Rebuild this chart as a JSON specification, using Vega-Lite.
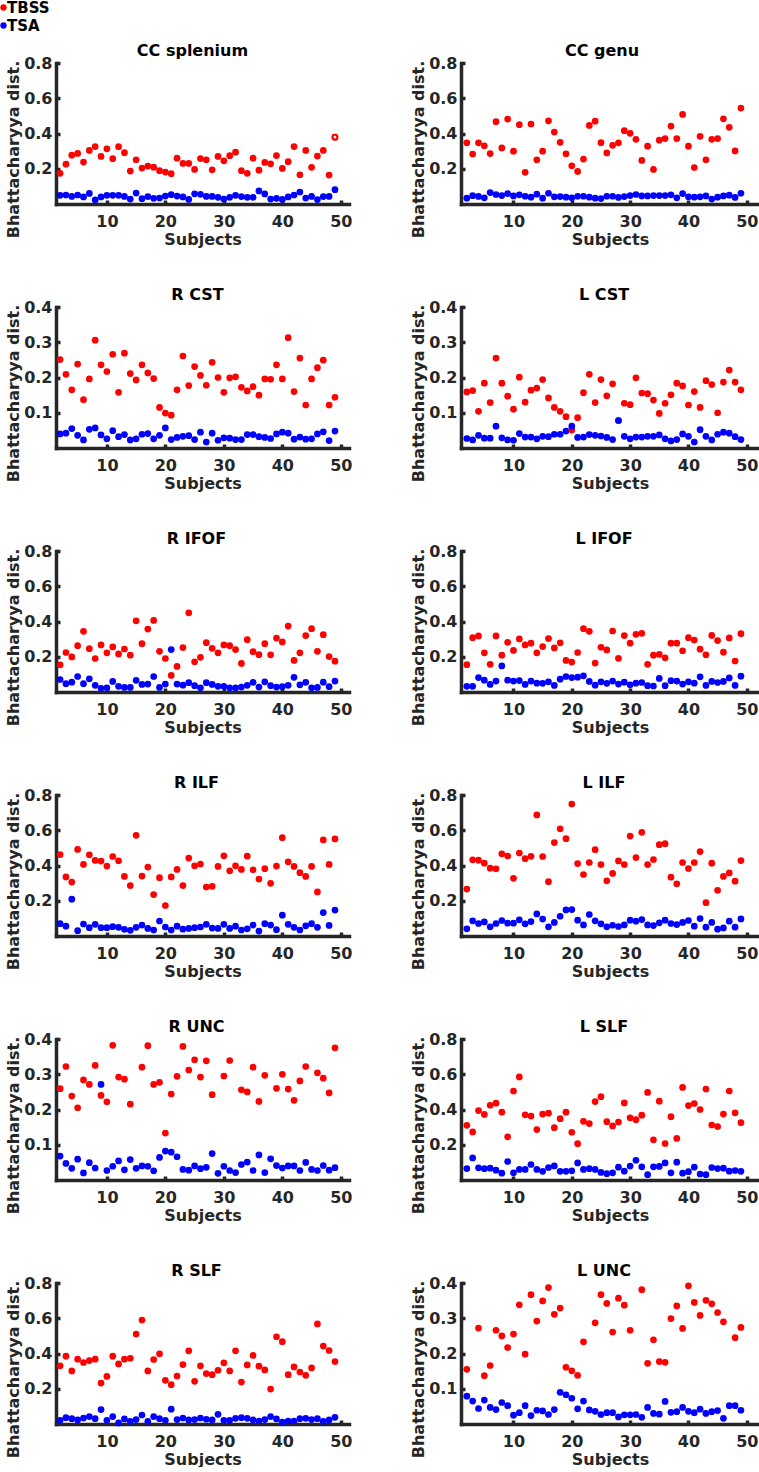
{
"$schema":"https://vega.github.io/schema/vega-lite/v6.json",
"padding":{"left":-4,"top":0,"right":0,"bottom":0},
"background":"white",
"bounds":"flush",
"columns":2,
"spacing":{"row":103,"column":112},
"datasets":{
"ccs":[{"s":2,"TBSS":0.174,"TSA":0.049},{"s":3,"TBSS":0.226,"TSA":0.051},{"s":4,"TBSS":0.277,"TSA":0.043},{"s":5,"TBSS":0.287,"TSA":0.051},{"s":6,"TBSS":0.238,"TSA":0.040},{"s":7,"TBSS":0.304,"TSA":0.060},{"s":8,"TBSS":0.326,"TSA":0.023},{"s":9,"TBSS":0.270,"TSA":0.040},{"s":10,"TBSS":0.313,"TSA":0.049},{"s":11,"TBSS":0.257,"TSA":0.049},{"s":12,"TBSS":0.325,"TSA":0.049},{"s":13,"TBSS":0.291,"TSA":0.043},{"s":14,"TBSS":0.187,"TSA":0.028},{"s":15,"TBSS":0.251,"TSA":0.062},{"s":16,"TBSS":0.204,"TSA":0.030},{"s":17,"TBSS":0.215,"TSA":0.042},{"s":18,"TBSS":0.209,"TSA":0.032},{"s":19,"TBSS":0.189,"TSA":0.034},{"s":20,"TBSS":0.181,"TSA":0.045},{"s":21,"TBSS":0.172,"TSA":0.053},{"s":22,"TBSS":0.260,"TSA":0.045},{"s":23,"TBSS":0.230,"TSA":0.040},{"s":24,"TBSS":0.230,"TSA":0.026},{"s":25,"TBSS":0.196,"TSA":0.058},{"s":26,"TBSS":0.258,"TSA":0.055},{"s":27,"TBSS":0.251,"TSA":0.043},{"s":28,"TBSS":0.194,"TSA":0.043},{"s":29,"TBSS":0.270,"TSA":0.038},{"s":30,"TBSS":0.245,"TSA":0.028},{"s":31,"TBSS":0.274,"TSA":0.038},{"s":32,"TBSS":0.294,"TSA":0.049},{"s":33,"TBSS":0.189,"TSA":0.042},{"s":34,"TBSS":0.174,"TSA":0.038},{"s":35,"TBSS":0.260,"TSA":0.038},{"s":36,"TBSS":0.192,"TSA":0.074},{"s":37,"TBSS":0.236,"TSA":0.057},{"s":38,"TBSS":0.228,"TSA":0.028},{"s":39,"TBSS":0.275,"TSA":0.032},{"s":40,"TBSS":0.202,"TSA":0.026},{"s":41,"TBSS":0.240,"TSA":0.040},{"s":42,"TBSS":0.326,"TSA":0.051},{"s":43,"TBSS":0.166,"TSA":0.068},{"s":44,"TBSS":0.304,"TSA":0.034},{"s":45,"TBSS":0.208,"TSA":0.043},{"s":46,"TBSS":0.272,"TSA":0.025},{"s":47,"TBSS":0.304,"TSA":0.042},{"s":48,"TBSS":0.164,"TSA":0.043},{"s":49,"TBSS":0.379,"TSA":0.081}],
"ccg":[{"s":2,"TBSS":0.347,"TSA":0.033},{"s":3,"TBSS":0.283,"TSA":0.047},{"s":4,"TBSS":0.347,"TSA":0.043},{"s":5,"TBSS":0.330,"TSA":0.035},{"s":6,"TBSS":0.286,"TSA":0.065},{"s":7,"TBSS":0.467,"TSA":0.054},{"s":8,"TBSS":0.318,"TSA":0.048},{"s":9,"TBSS":0.482,"TSA":0.059},{"s":10,"TBSS":0.300,"TSA":0.046},{"s":11,"TBSS":0.450,"TSA":0.052},{"s":12,"TBSS":0.180,"TSA":0.044},{"s":13,"TBSS":0.454,"TSA":0.039},{"s":14,"TBSS":0.251,"TSA":0.056},{"s":15,"TBSS":0.300,"TSA":0.033},{"s":16,"TBSS":0.472,"TSA":0.061},{"s":17,"TBSS":0.408,"TSA":0.041},{"s":18,"TBSS":0.350,"TSA":0.042},{"s":19,"TBSS":0.285,"TSA":0.039},{"s":20,"TBSS":0.217,"TSA":0.035},{"s":21,"TBSS":0.185,"TSA":0.044},{"s":22,"TBSS":0.255,"TSA":0.044},{"s":23,"TBSS":0.446,"TSA":0.039},{"s":24,"TBSS":0.470,"TSA":0.033},{"s":25,"TBSS":0.348,"TSA":0.031},{"s":26,"TBSS":0.290,"TSA":0.044},{"s":27,"TBSS":0.333,"TSA":0.044},{"s":28,"TBSS":0.347,"TSA":0.037},{"s":29,"TBSS":0.416,"TSA":0.042},{"s":30,"TBSS":0.401,"TSA":0.048},{"s":31,"TBSS":0.367,"TSA":0.054},{"s":32,"TBSS":0.247,"TSA":0.046},{"s":33,"TBSS":0.328,"TSA":0.046},{"s":34,"TBSS":0.196,"TSA":0.048},{"s":35,"TBSS":0.362,"TSA":0.048},{"s":36,"TBSS":0.371,"TSA":0.048},{"s":37,"TBSS":0.442,"TSA":0.052},{"s":38,"TBSS":0.371,"TSA":0.035},{"s":39,"TBSS":0.508,"TSA":0.059},{"s":40,"TBSS":0.328,"TSA":0.041},{"s":41,"TBSS":0.207,"TSA":0.039},{"s":42,"TBSS":0.384,"TSA":0.041},{"s":43,"TBSS":0.251,"TSA":0.046},{"s":44,"TBSS":0.367,"TSA":0.028},{"s":45,"TBSS":0.371,"TSA":0.039},{"s":46,"TBSS":0.483,"TSA":0.046},{"s":47,"TBSS":0.435,"TSA":0.050},{"s":48,"TBSS":0.301,"TSA":0.037},{"s":49,"TBSS":0.544,"TSA":0.061}],
"rcst":[{"s":2,"TBSS":0.251,"TSA":0.040},{"s":3,"TBSS":0.209,"TSA":0.042},{"s":4,"TBSS":0.165,"TSA":0.055},{"s":5,"TBSS":0.238,"TSA":0.036},{"s":6,"TBSS":0.137,"TSA":0.023},{"s":7,"TBSS":0.196,"TSA":0.053},{"s":8,"TBSS":0.306,"TSA":0.057},{"s":9,"TBSS":0.236,"TSA":0.037},{"s":10,"TBSS":0.217,"TSA":0.026},{"s":11,"TBSS":0.266,"TSA":0.049},{"s":12,"TBSS":0.158,"TSA":0.032},{"s":13,"TBSS":0.269,"TSA":0.038},{"s":14,"TBSS":0.211,"TSA":0.023},{"s":15,"TBSS":0.193,"TSA":0.026},{"s":16,"TBSS":0.236,"TSA":0.039},{"s":17,"TBSS":0.213,"TSA":0.041},{"s":18,"TBSS":0.197,"TSA":0.026},{"s":19,"TBSS":0.115,"TSA":0.036},{"s":20,"TBSS":0.099,"TSA":0.057},{"s":21,"TBSS":0.093,"TSA":0.024},{"s":22,"TBSS":0.165,"TSA":0.030},{"s":23,"TBSS":0.261,"TSA":0.033},{"s":24,"TBSS":0.177,"TSA":0.035},{"s":25,"TBSS":0.231,"TSA":0.024},{"s":26,"TBSS":0.206,"TSA":0.045},{"s":27,"TBSS":0.178,"TSA":0.017},{"s":28,"TBSS":0.243,"TSA":0.042},{"s":29,"TBSS":0.200,"TSA":0.022},{"s":30,"TBSS":0.158,"TSA":0.029},{"s":31,"TBSS":0.199,"TSA":0.028},{"s":32,"TBSS":0.202,"TSA":0.024},{"s":33,"TBSS":0.172,"TSA":0.024},{"s":34,"TBSS":0.162,"TSA":0.038},{"s":35,"TBSS":0.174,"TSA":0.038},{"s":36,"TBSS":0.150,"TSA":0.032},{"s":37,"TBSS":0.196,"TSA":0.030},{"s":38,"TBSS":0.195,"TSA":0.027},{"s":39,"TBSS":0.236,"TSA":0.040},{"s":40,"TBSS":0.196,"TSA":0.045},{"s":41,"TBSS":0.313,"TSA":0.042},{"s":42,"TBSS":0.160,"TSA":0.025},{"s":43,"TBSS":0.255,"TSA":0.031},{"s":44,"TBSS":0.122,"TSA":0.025},{"s":45,"TBSS":0.196,"TSA":0.026},{"s":46,"TBSS":0.228,"TSA":0.040},{"s":47,"TBSS":0.249,"TSA":0.046},{"s":48,"TBSS":0.122,"TSA":0.021},{"s":49,"TBSS":0.144,"TSA":0.048}],
"lcst":[{"s":2,"TBSS":0.159,"TSA":0.027},{"s":3,"TBSS":0.163,"TSA":0.023},{"s":4,"TBSS":0.104,"TSA":0.036},{"s":5,"TBSS":0.184,"TSA":0.028},{"s":6,"TBSS":0.129,"TSA":0.028},{"s":7,"TBSS":0.255,"TSA":0.062},{"s":8,"TBSS":0.184,"TSA":0.029},{"s":9,"TBSS":0.147,"TSA":0.023},{"s":10,"TBSS":0.110,"TSA":0.022},{"s":11,"TBSS":0.201,"TSA":0.041},{"s":12,"TBSS":0.130,"TSA":0.031},{"s":13,"TBSS":0.164,"TSA":0.031},{"s":14,"TBSS":0.170,"TSA":0.026},{"s":15,"TBSS":0.194,"TSA":0.033},{"s":16,"TBSS":0.142,"TSA":0.032},{"s":17,"TBSS":0.115,"TSA":0.039},{"s":18,"TBSS":0.104,"TSA":0.039},{"s":19,"TBSS":0.089,"TSA":0.048},{"s":20,"TBSS":0.051,"TSA":0.062},{"s":21,"TBSS":0.086,"TSA":0.030},{"s":22,"TBSS":0.157,"TSA":0.031},{"s":23,"TBSS":0.209,"TSA":0.038},{"s":24,"TBSS":0.129,"TSA":0.036},{"s":25,"TBSS":0.194,"TSA":0.034},{"s":26,"TBSS":0.148,"TSA":0.030},{"s":27,"TBSS":0.182,"TSA":0.024},{"s":28,"TBSS":0.078,"TSA":0.078},{"s":29,"TBSS":0.127,"TSA":0.033},{"s":30,"TBSS":0.123,"TSA":0.026},{"s":31,"TBSS":0.199,"TSA":0.031},{"s":32,"TBSS":0.156,"TSA":0.031},{"s":33,"TBSS":0.154,"TSA":0.033},{"s":34,"TBSS":0.136,"TSA":0.033},{"s":35,"TBSS":0.098,"TSA":0.037},{"s":36,"TBSS":0.127,"TSA":0.026},{"s":37,"TBSS":0.151,"TSA":0.020},{"s":38,"TBSS":0.184,"TSA":0.024},{"s":39,"TBSS":0.176,"TSA":0.040},{"s":40,"TBSS":0.122,"TSA":0.033},{"s":41,"TBSS":0.160,"TSA":0.017},{"s":42,"TBSS":0.115,"TSA":0.052},{"s":43,"TBSS":0.191,"TSA":0.033},{"s":44,"TBSS":0.180,"TSA":0.023},{"s":45,"TBSS":0.100,"TSA":0.039},{"s":46,"TBSS":0.187,"TSA":0.045},{"s":47,"TBSS":0.221,"TSA":0.042},{"s":48,"TBSS":0.187,"TSA":0.032},{"s":49,"TBSS":0.165,"TSA":0.024}],
"rifof":[{"s":2,"TBSS":0.154,"TSA":0.071},{"s":3,"TBSS":0.224,"TSA":0.047},{"s":4,"TBSS":0.199,"TSA":0.056},{"s":5,"TBSS":0.263,"TSA":0.088},{"s":6,"TBSS":0.344,"TSA":0.047},{"s":7,"TBSS":0.246,"TSA":0.075},{"s":8,"TBSS":0.190,"TSA":0.038},{"s":9,"TBSS":0.267,"TSA":0.021},{"s":10,"TBSS":0.222,"TSA":0.024},{"s":11,"TBSS":0.256,"TSA":0.060},{"s":12,"TBSS":0.216,"TSA":0.032},{"s":13,"TBSS":0.244,"TSA":0.026},{"s":14,"TBSS":0.209,"TSA":0.026},{"s":15,"TBSS":0.404,"TSA":0.066},{"s":16,"TBSS":0.274,"TSA":0.043},{"s":17,"TBSS":0.357,"TSA":0.045},{"s":18,"TBSS":0.406,"TSA":0.088},{"s":19,"TBSS":0.231,"TSA":0.026},{"s":20,"TBSS":0.190,"TSA":0.045},{"s":21,"TBSS":0.094,"TSA":0.241},{"s":22,"TBSS":0.145,"TSA":0.045},{"s":23,"TBSS":0.252,"TSA":0.039},{"s":24,"TBSS":0.449,"TSA":0.053},{"s":25,"TBSS":0.171,"TSA":0.036},{"s":26,"TBSS":0.197,"TSA":0.024},{"s":27,"TBSS":0.280,"TSA":0.053},{"s":28,"TBSS":0.248,"TSA":0.043},{"s":29,"TBSS":0.222,"TSA":0.032},{"s":30,"TBSS":0.267,"TSA":0.032},{"s":31,"TBSS":0.263,"TSA":0.024},{"s":32,"TBSS":0.241,"TSA":0.023},{"s":33,"TBSS":0.162,"TSA":0.028},{"s":34,"TBSS":0.297,"TSA":0.038},{"s":35,"TBSS":0.229,"TSA":0.055},{"s":36,"TBSS":0.212,"TSA":0.028},{"s":37,"TBSS":0.274,"TSA":0.058},{"s":38,"TBSS":0.211,"TSA":0.036},{"s":39,"TBSS":0.306,"TSA":0.028},{"s":40,"TBSS":0.284,"TSA":0.030},{"s":41,"TBSS":0.374,"TSA":0.038},{"s":42,"TBSS":0.179,"TSA":0.083},{"s":43,"TBSS":0.222,"TSA":0.041},{"s":44,"TBSS":0.320,"TSA":0.055},{"s":45,"TBSS":0.359,"TSA":0.024},{"s":46,"TBSS":0.231,"TSA":0.026},{"s":47,"TBSS":0.325,"TSA":0.056},{"s":48,"TBSS":0.201,"TSA":0.030},{"s":49,"TBSS":0.175,"TSA":0.062}],
"lifof":[{"s":2,"TBSS":0.155,"TSA":0.032},{"s":3,"TBSS":0.308,"TSA":0.032},{"s":4,"TBSS":0.318,"TSA":0.082},{"s":5,"TBSS":0.222,"TSA":0.067},{"s":6,"TBSS":0.157,"TSA":0.043},{"s":7,"TBSS":0.318,"TSA":0.062},{"s":8,"TBSS":0.209,"TSA":0.148},{"s":9,"TBSS":0.282,"TSA":0.067},{"s":10,"TBSS":0.236,"TSA":0.062},{"s":11,"TBSS":0.301,"TSA":0.065},{"s":12,"TBSS":0.267,"TSA":0.043},{"s":13,"TBSS":0.277,"TSA":0.062},{"s":14,"TBSS":0.222,"TSA":0.050},{"s":15,"TBSS":0.258,"TSA":0.049},{"s":16,"TBSS":0.303,"TSA":0.058},{"s":17,"TBSS":0.250,"TSA":0.037},{"s":18,"TBSS":0.279,"TSA":0.073},{"s":19,"TBSS":0.179,"TSA":0.088},{"s":20,"TBSS":0.170,"TSA":0.082},{"s":21,"TBSS":0.224,"TSA":0.084},{"s":22,"TBSS":0.359,"TSA":0.092},{"s":23,"TBSS":0.344,"TSA":0.060},{"s":24,"TBSS":0.164,"TSA":0.039},{"s":25,"TBSS":0.254,"TSA":0.058},{"s":26,"TBSS":0.239,"TSA":0.049},{"s":27,"TBSS":0.346,"TSA":0.062},{"s":28,"TBSS":0.191,"TSA":0.045},{"s":29,"TBSS":0.320,"TSA":0.056},{"s":30,"TBSS":0.277,"TSA":0.041},{"s":31,"TBSS":0.327,"TSA":0.050},{"s":32,"TBSS":0.333,"TSA":0.054},{"s":33,"TBSS":0.157,"TSA":0.036},{"s":34,"TBSS":0.209,"TSA":0.034},{"s":35,"TBSS":0.213,"TSA":0.077},{"s":36,"TBSS":0.194,"TSA":0.036},{"s":37,"TBSS":0.277,"TSA":0.064},{"s":38,"TBSS":0.277,"TSA":0.062},{"s":39,"TBSS":0.234,"TSA":0.045},{"s":40,"TBSS":0.308,"TSA":0.058},{"s":41,"TBSS":0.295,"TSA":0.050},{"s":42,"TBSS":0.243,"TSA":0.086},{"s":43,"TBSS":0.211,"TSA":0.037},{"s":44,"TBSS":0.321,"TSA":0.060},{"s":45,"TBSS":0.292,"TSA":0.054},{"s":46,"TBSS":0.226,"TSA":0.060},{"s":47,"TBSS":0.307,"TSA":0.080},{"s":48,"TBSS":0.176,"TSA":0.037},{"s":49,"TBSS":0.331,"TSA":0.090}],
"rilf":[{"s":2,"TBSS":0.462,"TSA":0.070},{"s":3,"TBSS":0.335,"TSA":0.056},{"s":4,"TBSS":0.306,"TSA":0.209},{"s":5,"TBSS":0.491,"TSA":0.030},{"s":6,"TBSS":0.406,"TSA":0.068},{"s":7,"TBSS":0.461,"TSA":0.047},{"s":8,"TBSS":0.429,"TSA":0.066},{"s":9,"TBSS":0.425,"TSA":0.047},{"s":10,"TBSS":0.397,"TSA":0.047},{"s":11,"TBSS":0.451,"TSA":0.053},{"s":12,"TBSS":0.427,"TSA":0.049},{"s":13,"TBSS":0.338,"TSA":0.038},{"s":14,"TBSS":0.286,"TSA":0.032},{"s":15,"TBSS":0.571,"TSA":0.049},{"s":16,"TBSS":0.340,"TSA":0.062},{"s":17,"TBSS":0.391,"TSA":0.043},{"s":18,"TBSS":0.235,"TSA":0.034},{"s":19,"TBSS":0.331,"TSA":0.085},{"s":20,"TBSS":0.173,"TSA":0.051},{"s":21,"TBSS":0.335,"TSA":0.034},{"s":22,"TBSS":0.378,"TSA":0.056},{"s":23,"TBSS":0.286,"TSA":0.039},{"s":24,"TBSS":0.442,"TSA":0.043},{"s":25,"TBSS":0.398,"TSA":0.047},{"s":26,"TBSS":0.408,"TSA":0.051},{"s":27,"TBSS":0.278,"TSA":0.066},{"s":28,"TBSS":0.282,"TSA":0.045},{"s":29,"TBSS":0.395,"TSA":0.043},{"s":30,"TBSS":0.455,"TSA":0.066},{"s":31,"TBSS":0.370,"TSA":0.043},{"s":32,"TBSS":0.398,"TSA":0.056},{"s":33,"TBSS":0.378,"TSA":0.034},{"s":34,"TBSS":0.453,"TSA":0.041},{"s":35,"TBSS":0.376,"TSA":0.062},{"s":36,"TBSS":0.323,"TSA":0.028},{"s":37,"TBSS":0.382,"TSA":0.070},{"s":38,"TBSS":0.299,"TSA":0.062},{"s":39,"TBSS":0.397,"TSA":0.036},{"s":40,"TBSS":0.558,"TSA":0.118},{"s":41,"TBSS":0.421,"TSA":0.066},{"s":42,"TBSS":0.395,"TSA":0.049},{"s":43,"TBSS":0.359,"TSA":0.034},{"s":44,"TBSS":0.338,"TSA":0.058},{"s":45,"TBSS":0.395,"TSA":0.070},{"s":46,"TBSS":0.250,"TSA":0.049},{"s":47,"TBSS":0.545,"TSA":0.133},{"s":48,"TBSS":0.406,"TSA":0.060},{"s":49,"TBSS":0.551,"TSA":0.147}],
"lilf":[{"s":2,"TBSS":0.266,"TSA":0.041},{"s":3,"TBSS":0.432,"TSA":0.086},{"s":4,"TBSS":0.430,"TSA":0.071},{"s":5,"TBSS":0.413,"TSA":0.080},{"s":6,"TBSS":0.385,"TSA":0.052},{"s":7,"TBSS":0.381,"TSA":0.071},{"s":8,"TBSS":0.466,"TSA":0.088},{"s":9,"TBSS":0.454,"TSA":0.073},{"s":10,"TBSS":0.327,"TSA":0.073},{"s":11,"TBSS":0.471,"TSA":0.092},{"s":12,"TBSS":0.439,"TSA":0.069},{"s":13,"TBSS":0.452,"TSA":0.082},{"s":14,"TBSS":0.687,"TSA":0.125},{"s":15,"TBSS":0.451,"TSA":0.096},{"s":16,"TBSS":0.308,"TSA":0.052},{"s":17,"TBSS":0.530,"TSA":0.077},{"s":18,"TBSS":0.608,"TSA":0.112},{"s":19,"TBSS":0.552,"TSA":0.148},{"s":20,"TBSS":0.749,"TSA":0.150},{"s":21,"TBSS":0.411,"TSA":0.090},{"s":22,"TBSS":0.349,"TSA":0.063},{"s":23,"TBSS":0.417,"TSA":0.122},{"s":24,"TBSS":0.490,"TSA":0.086},{"s":25,"TBSS":0.405,"TSA":0.069},{"s":26,"TBSS":0.313,"TSA":0.052},{"s":27,"TBSS":0.355,"TSA":0.061},{"s":28,"TBSS":0.426,"TSA":0.054},{"s":29,"TBSS":0.405,"TSA":0.063},{"s":30,"TBSS":0.567,"TSA":0.090},{"s":31,"TBSS":0.445,"TSA":0.084},{"s":32,"TBSS":0.588,"TSA":0.093},{"s":33,"TBSS":0.405,"TSA":0.063},{"s":34,"TBSS":0.434,"TSA":0.059},{"s":35,"TBSS":0.518,"TSA":0.075},{"s":36,"TBSS":0.524,"TSA":0.090},{"s":37,"TBSS":0.334,"TSA":0.071},{"s":38,"TBSS":0.296,"TSA":0.065},{"s":39,"TBSS":0.417,"TSA":0.077},{"s":40,"TBSS":0.383,"TSA":0.088},{"s":41,"TBSS":0.417,"TSA":0.056},{"s":42,"TBSS":0.479,"TSA":0.099},{"s":43,"TBSS":0.189,"TSA":0.050},{"s":44,"TBSS":0.413,"TSA":0.077},{"s":45,"TBSS":0.259,"TSA":0.039},{"s":46,"TBSS":0.338,"TSA":0.046},{"s":47,"TBSS":0.358,"TSA":0.084},{"s":48,"TBSS":0.311,"TSA":0.050},{"s":49,"TBSS":0.428,"TSA":0.097}],
"runc":[{"s":2,"TBSS":0.259,"TSA":0.068},{"s":3,"TBSS":0.322,"TSA":0.047},{"s":4,"TBSS":0.238,"TSA":0.033},{"s":5,"TBSS":0.205,"TSA":0.059},{"s":6,"TBSS":0.284,"TSA":0.020},{"s":7,"TBSS":0.271,"TSA":0.049},{"s":8,"TBSS":0.325,"TSA":0.034},{"s":9,"TBSS":0.240,"TSA":0.271},{"s":10,"TBSS":0.222,"TSA":0.027},{"s":11,"TBSS":0.382,"TSA":0.039},{"s":12,"TBSS":0.292,"TSA":0.054},{"s":13,"TBSS":0.286,"TSA":0.029},{"s":14,"TBSS":0.215,"TSA":0.058},{"s":15,"TBSS":null,"TSA":0.033},{"s":16,"TBSS":0.320,"TSA":0.040},{"s":17,"TBSS":0.381,"TSA":0.039},{"s":18,"TBSS":0.271,"TSA":0.026},{"s":19,"TBSS":0.277,"TSA":0.064},{"s":20,"TBSS":0.133,"TSA":0.082},{"s":21,"TBSS":0.244,"TSA":0.079},{"s":22,"TBSS":0.294,"TSA":0.066},{"s":23,"TBSS":0.379,"TSA":0.030},{"s":24,"TBSS":0.312,"TSA":0.028},{"s":25,"TBSS":0.341,"TSA":0.040},{"s":26,"TBSS":0.292,"TSA":0.032},{"s":27,"TBSS":0.338,"TSA":0.036},{"s":28,"TBSS":0.242,"TSA":0.075},{"s":29,"TBSS":null,"TSA":0.019},{"s":30,"TBSS":0.295,"TSA":0.039},{"s":31,"TBSS":0.339,"TSA":0.027},{"s":32,"TBSS":null,"TSA":0.021},{"s":33,"TBSS":0.256,"TSA":0.044},{"s":34,"TBSS":0.250,"TSA":0.051},{"s":35,"TBSS":0.320,"TSA":0.027},{"s":36,"TBSS":0.223,"TSA":0.071},{"s":37,"TBSS":0.297,"TSA":0.021},{"s":38,"TBSS":null,"TSA":0.060},{"s":39,"TBSS":0.260,"TSA":0.041},{"s":40,"TBSS":0.300,"TSA":0.034},{"s":41,"TBSS":0.258,"TSA":0.040},{"s":42,"TBSS":0.226,"TSA":0.040},{"s":43,"TBSS":0.281,"TSA":0.027},{"s":44,"TBSS":0.322,"TSA":0.050},{"s":45,"TBSS":null,"TSA":0.030},{"s":46,"TBSS":0.304,"TSA":0.027},{"s":47,"TBSS":0.289,"TSA":0.041},{"s":48,"TBSS":0.247,"TSA":0.028},{"s":49,"TBSS":0.375,"TSA":0.035}],
"lslf":[{"s":2,"TBSS":0.310,"TSA":0.065},{"s":3,"TBSS":0.273,"TSA":0.125},{"s":4,"TBSS":0.394,"TSA":0.069},{"s":5,"TBSS":0.372,"TSA":0.064},{"s":6,"TBSS":0.424,"TSA":0.067},{"s":7,"TBSS":0.436,"TSA":0.056},{"s":8,"TBSS":0.385,"TSA":0.039},{"s":9,"TBSS":0.245,"TSA":0.105},{"s":10,"TBSS":0.505,"TSA":0.041},{"s":11,"TBSS":0.585,"TSA":0.060},{"s":12,"TBSS":0.370,"TSA":0.060},{"s":13,"TBSS":0.363,"TSA":0.088},{"s":14,"TBSS":0.286,"TSA":0.060},{"s":15,"TBSS":0.374,"TSA":0.049},{"s":16,"TBSS":0.379,"TSA":0.071},{"s":17,"TBSS":0.297,"TSA":0.080},{"s":18,"TBSS":0.348,"TSA":0.049},{"s":19,"TBSS":0.385,"TSA":0.049},{"s":20,"TBSS":0.271,"TSA":0.052},{"s":21,"TBSS":0.206,"TSA":0.097},{"s":22,"TBSS":0.333,"TSA":0.060},{"s":23,"TBSS":0.320,"TSA":0.064},{"s":24,"TBSS":0.445,"TSA":0.060},{"s":25,"TBSS":0.473,"TSA":0.043},{"s":26,"TBSS":0.331,"TSA":0.036},{"s":27,"TBSS":0.307,"TSA":0.041},{"s":28,"TBSS":0.329,"TSA":0.073},{"s":29,"TBSS":0.437,"TSA":0.050},{"s":30,"TBSS":0.353,"TSA":0.079},{"s":31,"TBSS":0.342,"TSA":0.112},{"s":32,"TBSS":0.368,"TSA":0.075},{"s":33,"TBSS":0.497,"TSA":0.030},{"s":34,"TBSS":0.228,"TSA":0.075},{"s":35,"TBSS":0.447,"TSA":0.077},{"s":36,"TBSS":0.207,"TSA":0.097},{"s":37,"TBSS":0.359,"TSA":0.041},{"s":38,"TBSS":0.236,"TSA":0.101},{"s":39,"TBSS":0.525,"TSA":0.039},{"s":40,"TBSS":0.422,"TSA":0.047},{"s":41,"TBSS":0.434,"TSA":0.073},{"s":42,"TBSS":0.400,"TSA":0.034},{"s":43,"TBSS":0.516,"TSA":0.030},{"s":44,"TBSS":0.312,"TSA":0.071},{"s":45,"TBSS":0.303,"TSA":0.065},{"s":46,"TBSS":0.374,"TSA":0.067},{"s":47,"TBSS":0.505,"TSA":0.050},{"s":48,"TBSS":0.381,"TSA":0.054},{"s":49,"TBSS":0.325,"TSA":0.049}],
"rslf":[{"s":2,"TBSS":0.330,"TSA":0.021},{"s":3,"TBSS":0.385,"TSA":0.036},{"s":4,"TBSS":0.301,"TSA":0.030},{"s":5,"TBSS":0.368,"TSA":0.023},{"s":6,"TBSS":0.349,"TSA":0.034},{"s":7,"TBSS":0.360,"TSA":0.042},{"s":8,"TBSS":0.368,"TSA":0.030},{"s":9,"TBSS":0.232,"TSA":0.082},{"s":10,"TBSS":0.270,"TSA":0.021},{"s":11,"TBSS":0.385,"TSA":0.042},{"s":12,"TBSS":0.341,"TSA":0.006},{"s":13,"TBSS":0.368,"TSA":0.029},{"s":14,"TBSS":0.373,"TSA":0.015},{"s":15,"TBSS":0.510,"TSA":0.025},{"s":16,"TBSS":0.590,"TSA":0.051},{"s":17,"TBSS":0.301,"TSA":0.015},{"s":18,"TBSS":0.366,"TSA":0.042},{"s":19,"TBSS":0.398,"TSA":0.030},{"s":20,"TBSS":0.248,"TSA":0.021},{"s":21,"TBSS":0.223,"TSA":0.084},{"s":22,"TBSS":0.272,"TSA":0.025},{"s":23,"TBSS":0.337,"TSA":0.034},{"s":24,"TBSS":0.415,"TSA":0.023},{"s":25,"TBSS":0.242,"TSA":0.025},{"s":26,"TBSS":0.330,"TSA":0.034},{"s":27,"TBSS":0.286,"TSA":0.027},{"s":28,"TBSS":0.280,"TSA":0.023},{"s":29,"TBSS":0.305,"TSA":0.055},{"s":30,"TBSS":0.347,"TSA":0.021},{"s":31,"TBSS":0.301,"TSA":0.021},{"s":32,"TBSS":0.415,"TSA":0.032},{"s":33,"TBSS":0.238,"TSA":0.036},{"s":34,"TBSS":0.335,"TSA":0.032},{"s":35,"TBSS":0.389,"TSA":0.023},{"s":36,"TBSS":0.328,"TSA":0.017},{"s":37,"TBSS":0.307,"TSA":0.025},{"s":38,"TBSS":0.198,"TSA":0.042},{"s":39,"TBSS":0.495,"TSA":0.029},{"s":40,"TBSS":0.467,"TSA":0.011},{"s":41,"TBSS":0.280,"TSA":0.017},{"s":42,"TBSS":0.324,"TSA":0.017},{"s":43,"TBSS":0.295,"TSA":0.030},{"s":44,"TBSS":0.276,"TSA":0.032},{"s":45,"TBSS":0.318,"TSA":0.025},{"s":46,"TBSS":0.568,"TSA":0.030},{"s":47,"TBSS":0.442,"TSA":0.015},{"s":48,"TBSS":0.417,"TSA":0.023},{"s":49,"TBSS":0.354,"TSA":0.038}],
"lunc":[{"s":2,"TBSS":0.155,"TSA":0.079},{"s":3,"TBSS":null,"TSA":0.065},{"s":4,"TBSS":0.272,"TSA":0.044},{"s":5,"TBSS":0.137,"TSA":0.068},{"s":6,"TBSS":0.166,"TSA":0.047},{"s":7,"TBSS":0.266,"TSA":0.041},{"s":8,"TBSS":0.250,"TSA":0.061},{"s":9,"TBSS":0.217,"TSA":0.052},{"s":10,"TBSS":0.255,"TSA":0.025},{"s":11,"TBSS":0.338,"TSA":0.032},{"s":12,"TBSS":0.198,"TSA":0.052},{"s":13,"TBSS":0.367,"TSA":0.024},{"s":14,"TBSS":0.292,"TSA":0.039},{"s":15,"TBSS":0.349,"TSA":0.037},{"s":16,"TBSS":0.387,"TSA":0.027},{"s":17,"TBSS":0.311,"TSA":0.041},{"s":18,"TBSS":0.329,"TSA":0.090},{"s":19,"TBSS":0.161,"TSA":0.083},{"s":20,"TBSS":0.151,"TSA":0.073},{"s":21,"TBSS":0.138,"TSA":0.043},{"s":22,"TBSS":0.233,"TSA":0.065},{"s":23,"TBSS":null,"TSA":0.040},{"s":24,"TBSS":0.287,"TSA":0.036},{"s":25,"TBSS":0.367,"TSA":0.027},{"s":26,"TBSS":0.342,"TSA":0.032},{"s":27,"TBSS":0.261,"TSA":0.032},{"s":28,"TBSS":0.357,"TSA":0.020},{"s":29,"TBSS":0.337,"TSA":0.026},{"s":30,"TBSS":0.266,"TSA":0.026},{"s":31,"TBSS":null,"TSA":0.027},{"s":32,"TBSS":0.381,"TSA":0.019},{"s":33,"TBSS":0.172,"TSA":0.047},{"s":34,"TBSS":0.239,"TSA":0.030},{"s":35,"TBSS":0.177,"TSA":0.028},{"s":36,"TBSS":0.175,"TSA":0.064},{"s":37,"TBSS":0.299,"TSA":0.033},{"s":38,"TBSS":0.335,"TSA":0.035},{"s":39,"TBSS":0.271,"TSA":0.047},{"s":40,"TBSS":0.392,"TSA":0.036},{"s":41,"TBSS":0.345,"TSA":0.032},{"s":42,"TBSS":0.308,"TSA":0.042},{"s":43,"TBSS":0.351,"TSA":0.030},{"s":44,"TBSS":0.341,"TSA":0.035},{"s":45,"TBSS":0.316,"TSA":0.038},{"s":46,"TBSS":0.290,"TSA":0.016},{"s":47,"TBSS":null,"TSA":0.052},{"s":48,"TBSS":0.245,"TSA":0.052},{"s":49,"TBSS":0.274,"TSA":0.039}]
},
"concat":[
{"data":{"name":"ccs"},"title":{"text":"CC splenium","dx":-10},"width":293,"height":141,"transform":[{"fold":["TBSS","TSA"],"as":["method","value"]}],"layer":[{"mark":{"type":"circle","size":45,"opacity":1},"encoding":{"x":{"field":"s","type":"quantitative","scale":{"domain":[1.3,51.4],"nice":false,"zero":false},"axis":{"values":[10,20,30,40,50],"format":"d","title":"Subjects"}},"y":{"field":"value","type":"quantitative","scale":{"domain":[0,0.8],"nice":false},"axis":{"values":[0.2,0.4,0.6,0.8],"format":".1f","title":"Bhattacharyya dist.","titleY":86}},"color":{"field":"method","type":"nominal","title":null,"scale":{"domain":["TBSS","TSA"],"range":["#ff0000","#0000ff"]}}}},{"transform":[{"filter":"datum.s == 49 && datum.method == 'TBSS'"}],"mark":{"type":"circle","size":22,"fill":"#ffffff","stroke":"#ff0000","strokeWidth":2,"opacity":1},"encoding":{"x":{"field":"s","type":"quantitative"},"y":{"field":"value","type":"quantitative"}}}]},
{"data":{"name":"ccg"},"title":{"text":"CC genu","dx":-8},"width":298,"height":141,"transform":[{"fold":["TBSS","TSA"],"as":["method","value"]}],"mark":{"type":"circle","size":45,"opacity":1},"encoding":{"x":{"field":"s","type":"quantitative","scale":{"domain":[1.0,52.1],"nice":false,"zero":false},"axis":{"values":[10,20,30,40,50],"format":"d","title":"Subjects"}},"y":{"field":"value","type":"quantitative","scale":{"domain":[0,0.8],"nice":false},"axis":{"values":[0.2,0.4,0.6,0.8],"format":".1f","title":"Bhattacharyya dist.","titleY":86}},"color":{"field":"method","type":"nominal","title":null,"scale":{"domain":["TBSS","TSA"],"range":["#ff0000","#0000ff"]}}}},
{"data":{"name":"rcst"},"title":{"text":"R CST","dx":-5},"width":293,"height":141,"transform":[{"fold":["TBSS","TSA"],"as":["method","value"]}],"mark":{"type":"circle","size":45,"opacity":1},"encoding":{"x":{"field":"s","type":"quantitative","scale":{"domain":[1.3,51.4],"nice":false,"zero":false},"axis":{"values":[10,20,30,40,50],"format":"d","title":"Subjects"}},"y":{"field":"value","type":"quantitative","scale":{"domain":[0,0.4],"nice":false},"axis":{"values":[0.1,0.2,0.3,0.4],"format":".1f","title":"Bhattacharyya dist.","titleY":86}},"color":{"field":"method","type":"nominal","title":null,"scale":{"domain":["TBSS","TSA"],"range":["#ff0000","#0000ff"]}}}},
{"data":{"name":"lcst"},"title":{"text":"L CST","dx":-6},"width":298,"height":141,"transform":[{"fold":["TBSS","TSA"],"as":["method","value"]}],"mark":{"type":"circle","size":45,"opacity":1},"encoding":{"x":{"field":"s","type":"quantitative","scale":{"domain":[1.0,52.1],"nice":false,"zero":false},"axis":{"values":[10,20,30,40,50],"format":"d","title":"Subjects"}},"y":{"field":"value","type":"quantitative","scale":{"domain":[0,0.4],"nice":false},"axis":{"values":[0.1,0.2,0.3,0.4],"format":".1f","title":"Bhattacharyya dist.","titleY":86}},"color":{"field":"method","type":"nominal","title":null,"scale":{"domain":["TBSS","TSA"],"range":["#ff0000","#0000ff"]}}}},
{"data":{"name":"rifof"},"title":{"text":"R IFOF","dx":-6},"width":293,"height":141,"transform":[{"fold":["TBSS","TSA"],"as":["method","value"]}],"mark":{"type":"circle","size":45,"opacity":1},"encoding":{"x":{"field":"s","type":"quantitative","scale":{"domain":[1.3,51.4],"nice":false,"zero":false},"axis":{"values":[10,20,30,40,50],"format":"d","title":"Subjects"}},"y":{"field":"value","type":"quantitative","scale":{"domain":[0,0.8],"nice":false},"axis":{"values":[0.2,0.4,0.6,0.8],"format":".1f","title":"Bhattacharyya dist.","titleY":86}},"color":{"field":"method","type":"nominal","title":null,"scale":{"domain":["TBSS","TSA"],"range":["#ff0000","#0000ff"]}}}},
{"data":{"name":"lifof"},"title":{"text":"L IFOF","dx":-6},"width":298,"height":141,"transform":[{"fold":["TBSS","TSA"],"as":["method","value"]}],"mark":{"type":"circle","size":45,"opacity":1},"encoding":{"x":{"field":"s","type":"quantitative","scale":{"domain":[1.0,52.1],"nice":false,"zero":false},"axis":{"values":[10,20,30,40,50],"format":"d","title":"Subjects"}},"y":{"field":"value","type":"quantitative","scale":{"domain":[0,0.8],"nice":false},"axis":{"values":[0.2,0.4,0.6,0.8],"format":".1f","title":"Bhattacharyya dist.","titleY":86}},"color":{"field":"method","type":"nominal","title":null,"scale":{"domain":["TBSS","TSA"],"range":["#ff0000","#0000ff"]}}}},
{"data":{"name":"rilf"},"title":{"text":"R ILF","dx":-6},"width":293,"height":141,"transform":[{"fold":["TBSS","TSA"],"as":["method","value"]}],"mark":{"type":"circle","size":45,"opacity":1},"encoding":{"x":{"field":"s","type":"quantitative","scale":{"domain":[1.3,51.4],"nice":false,"zero":false},"axis":{"values":[10,20,30,40,50],"format":"d","title":"Subjects"}},"y":{"field":"value","type":"quantitative","scale":{"domain":[0,0.8],"nice":false},"axis":{"values":[0.2,0.4,0.6,0.8],"format":".1f","title":"Bhattacharyya dist.","titleY":86}},"color":{"field":"method","type":"nominal","title":null,"scale":{"domain":["TBSS","TSA"],"range":["#ff0000","#0000ff"]}}}},
{"data":{"name":"lilf"},"title":{"text":"L ILF","dx":-6},"width":298,"height":141,"transform":[{"fold":["TBSS","TSA"],"as":["method","value"]}],"mark":{"type":"circle","size":45,"opacity":1},"encoding":{"x":{"field":"s","type":"quantitative","scale":{"domain":[1.0,52.1],"nice":false,"zero":false},"axis":{"values":[10,20,30,40,50],"format":"d","title":"Subjects"}},"y":{"field":"value","type":"quantitative","scale":{"domain":[0,0.8],"nice":false},"axis":{"values":[0.2,0.4,0.6,0.8],"format":".1f","title":"Bhattacharyya dist.","titleY":86}},"color":{"field":"method","type":"nominal","title":null,"scale":{"domain":["TBSS","TSA"],"range":["#ff0000","#0000ff"]}}}},
{"data":{"name":"runc"},"title":{"text":"R UNC","dx":-6},"width":293,"height":141,"transform":[{"fold":["TBSS","TSA"],"as":["method","value"]}],"mark":{"type":"circle","size":45,"opacity":1},"encoding":{"x":{"field":"s","type":"quantitative","scale":{"domain":[1.3,51.4],"nice":false,"zero":false},"axis":{"values":[10,20,30,40,50],"format":"d","title":"Subjects"}},"y":{"field":"value","type":"quantitative","scale":{"domain":[0,0.4],"nice":false},"axis":{"values":[0.1,0.2,0.3,0.4],"format":".1f","title":"Bhattacharyya dist.","titleY":86}},"color":{"field":"method","type":"nominal","title":null,"scale":{"domain":["TBSS","TSA"],"range":["#ff0000","#0000ff"]}}}},
{"data":{"name":"lslf"},"title":{"text":"L SLF","dx":-6},"width":298,"height":141,"transform":[{"fold":["TBSS","TSA"],"as":["method","value"]}],"mark":{"type":"circle","size":45,"opacity":1},"encoding":{"x":{"field":"s","type":"quantitative","scale":{"domain":[1.0,52.1],"nice":false,"zero":false},"axis":{"values":[10,20,30,40,50],"format":"d","title":"Subjects"}},"y":{"field":"value","type":"quantitative","scale":{"domain":[0,0.8],"nice":false},"axis":{"values":[0.2,0.4,0.6,0.8],"format":".1f","title":"Bhattacharyya dist.","titleY":86}},"color":{"field":"method","type":"nominal","title":null,"scale":{"domain":["TBSS","TSA"],"range":["#ff0000","#0000ff"]}}}},
{"data":{"name":"rslf"},"title":{"text":"R SLF","dx":-6},"width":293,"height":141,"transform":[{"fold":["TBSS","TSA"],"as":["method","value"]}],"mark":{"type":"circle","size":45,"opacity":1},"encoding":{"x":{"field":"s","type":"quantitative","scale":{"domain":[1.3,51.4],"nice":false,"zero":false},"axis":{"values":[10,20,30,40,50],"format":"d","title":"Subjects"}},"y":{"field":"value","type":"quantitative","scale":{"domain":[0,0.8],"nice":false},"axis":{"values":[0.2,0.4,0.6,0.8],"format":".1f","title":"Bhattacharyya dist.","titleY":86}},"color":{"field":"method","type":"nominal","title":null,"scale":{"domain":["TBSS","TSA"],"range":["#ff0000","#0000ff"]}}}},
{"data":{"name":"lunc"},"title":{"text":"L UNC","dx":-6},"width":298,"height":141,"transform":[{"fold":["TBSS","TSA"],"as":["method","value"]}],"mark":{"type":"circle","size":45,"opacity":1},"encoding":{"x":{"field":"s","type":"quantitative","scale":{"domain":[1.0,52.1],"nice":false,"zero":false},"axis":{"values":[10,20,30,40,50],"format":"d","title":"Subjects"}},"y":{"field":"value","type":"quantitative","scale":{"domain":[0,0.4],"nice":false},"axis":{"values":[0.1,0.2,0.3,0.4],"format":".1f","title":"Bhattacharyya dist.","titleY":86}},"color":{"field":"method","type":"nominal","title":null,"scale":{"domain":["TBSS","TSA"],"range":["#ff0000","#0000ff"]}}}}
],
"config":{
"view":{"stroke":null},
"font":"DejaVu Sans",
"axis":{"grid":false,"domainColor":"#262626","domainWidth":3.5,"domainCap":"square","tickColor":"#262626","tickWidth":3.5,"tickSize":-4,"labelFont":"DejaVu Sans","labelFontSize":16,"labelFontWeight":"bold","labelColor":"#262626","labelFlush":false,"labelOverlap":false,"titleFont":"DejaVu Sans","titleFontSize":16,"titleFontWeight":"bold","titleColor":"#262626"},
"axisX":{"labelPadding":13,"titlePadding":2},
"axisY":{"labelPadding":8,"titlePadding":2},
"title":{"font":"DejaVu Sans","fontSize":16,"fontWeight":"bold","color":"#000000","offset":-4,"frame":"group","anchor":"middle"},
"legend":{"orient":"none","legendX":-60,"legendY":-63,"padding":0,"labelFont":"DejaVu Sans","labelFontSize":15,"labelFontWeight":"bold","labelColor":"#000000","symbolType":"circle","symbolSize":40,"labelOffset":-4,"rowPadding":2,"symbolStrokeWidth":0}
}
}
